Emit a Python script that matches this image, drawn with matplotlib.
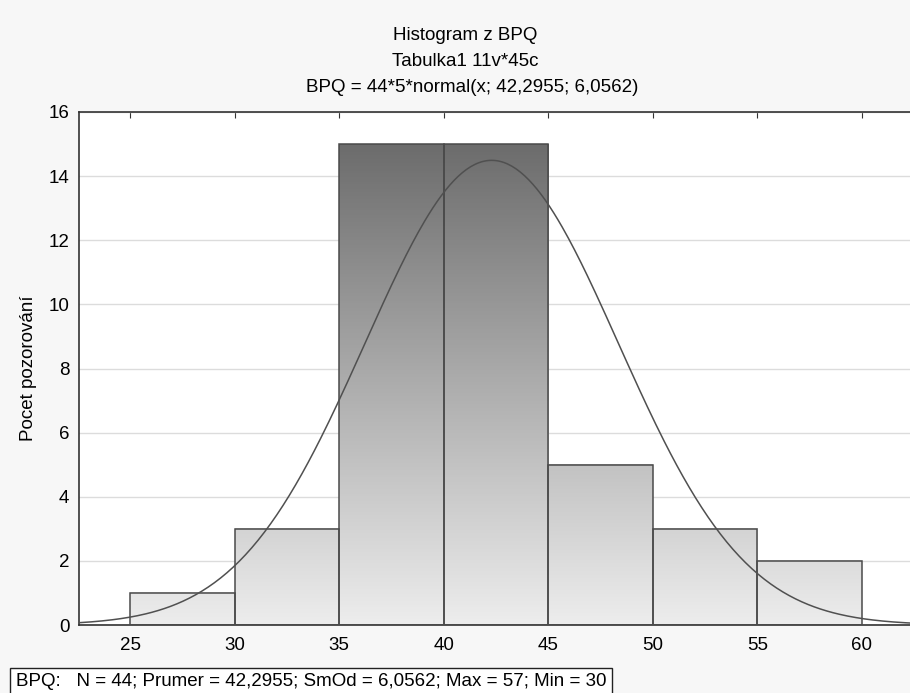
import numpy as np
import matplotlib
matplotlib.use("Agg")
import matplotlib.pyplot as plt
from matplotlib.colors import LinearSegmentedColormap

# data
bin_edges = [25, 30, 35, 40, 45, 50, 55, 60]
counts = [1, 3, 15, 15, 5, 3, 2]
n_obs = 44
bin_width = 5
mean = 42.2955
sd = 6.0562

plt.rcParams["font.family"] = ["Liberation Sans", "DejaVu Sans"]
fs = 13.5

fig = plt.figure(figsize=(9.10, 6.93), dpi=100, facecolor="#f7f7f7")
ax = fig.add_axes([79 / 910, 68 / 693, 831 / 910, 513 / 693])
ax.set_facecolor("white")

x_lo, x_hi = 22.56, 62.3
y_lo, y_hi = 0, 16

# gray gradient depending on height
cmap = LinearSegmentedColormap.from_list("g", ["#ededed", "#6a6a6a"])
grad_top = 15.3
for i, c in enumerate(counts):
    left, right = bin_edges[i], bin_edges[i + 1]
    vals = np.linspace(0, c, 200).reshape(-1, 1)
    ax.imshow(vals, extent=[left, right, 0, c], origin="lower", cmap=cmap,
              vmin=0, vmax=grad_top, aspect="auto", zorder=2, interpolation="bilinear")

lefts = bin_edges[:-1]
ax.bar(lefts, counts, width=bin_width, align="edge", fill=False,
       edgecolor="#4a4a4a", linewidth=1.1, zorder=3)

xs = np.linspace(x_lo, x_hi, 400)
ys = n_obs * bin_width * np.exp(-0.5 * ((xs - mean) / sd) ** 2) / (sd * np.sqrt(2 * np.pi))
ax.plot(xs, ys, color="#505050", linewidth=1.1, zorder=4)

ax.set_xlim(x_lo, x_hi)
ax.set_ylim(y_lo, y_hi)
ax.set_xticks(bin_edges)
ax.set_yticks(range(0, 17, 2))
ax.yaxis.grid(True, color="#dcdcdc", linewidth=1, zorder=0)
ax.set_axisbelow(True)
ax.tick_params(axis="x", direction="in", top=True, bottom=False, length=4,
               labelsize=fs, pad=9, color="#333333")
ax.tick_params(axis="y", direction="in", left=False, length=4, labelsize=fs, pad=7)
for side in ["left", "bottom", "top"]:
    ax.spines[side].set_color("#333333")
    ax.spines[side].set_linewidth(1.2)
ax.spines["right"].set_visible(False)
ax.set_ylabel("Pocet pozorování", fontsize=fs, labelpad=8)

fig.text(465 / 910, 1 - 36 / 693, "Histogram z BPQ", ha="center", va="center", fontsize=fs)
fig.text(465 / 910, 1 - 62 / 693, "Tabulka1 11v*45c", ha="center", va="center", fontsize=fs)
fig.text(472 / 910, 1 - 87 / 693, "BPQ = 44*5*normal(x; 42,2955; 6,0562)",
         ha="center", va="center", fontsize=fs)

fig.text(16 / 910, 1 - 682 / 693,
         "BPQ:   N = 44; Prumer = 42,2955; SmOd = 6,0562; Max = 57; Min = 30",
         ha="left", va="center", fontsize=fs,
         bbox=dict(boxstyle="square,pad=0.3", facecolor="white", edgecolor="#222222", linewidth=1))

fig.savefig("out.png", dpi=100, facecolor=fig.get_facecolor())
